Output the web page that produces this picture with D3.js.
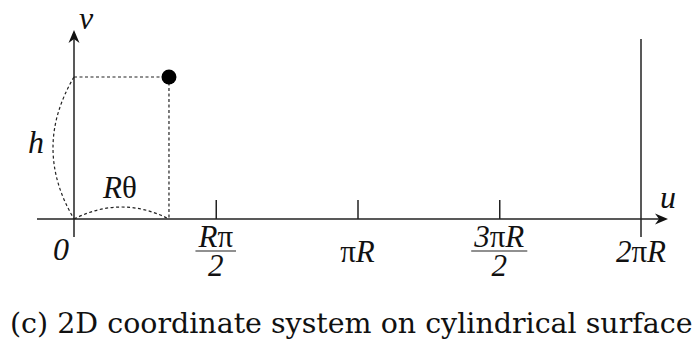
<!DOCTYPE html>
<html>
<head>
<meta charset="utf-8">
<script src="https://cdn.jsdelivr.net/npm/d3@7"></script>
<style>
  body { margin: 0; background: #fff; }
  text { fill: #111; }
</style>
</head>
<body>
<svg id="chart" width="699" height="341"></svg>
<script>
// u values are in multiples of piR, v in units of h
const tickValues = [0.5, 1, 1.5, 2];
const tickNums = ['Rπ', 'πR', '3πR', '2πR'];
const tickDens = ['2', '', '2', ''];
const pointU = [0.335];
const pointV = [1];
const caption = '(c) 2D coordinate system on cylindrical surface';

const svg = d3.select('#chart');
const ink = '#222';
const mathFont = "'Liberation Serif', 'Times New Roman', serif";

const x = d3.scaleLinear().domain([0, 2]).range([74, 641]);
const y = d3.scaleLinear().domain([0, 1]).range([219, 77]);

// axes lines
svg.append('line').attr('x1', 37).attr('x2', 660).attr('y1', y(0)).attr('y2', y(0))
  .attr('stroke', ink).attr('stroke-width', 1.5);
svg.append('line').attr('x1', x(0)).attr('x2', x(0)).attr('y1', 237).attr('y2', 38)
  .attr('stroke', ink).attr('stroke-width', 1.5);

// arrow heads
const arrow = 'M0,0 L-13,-5.5 L-9,0 L-13,5.5 Z';
svg.append('path').attr('d', arrow).attr('fill', '#111')
  .attr('transform', `translate(668,${y(0)})`);
svg.append('path').attr('d', arrow).attr('fill', '#111')
  .attr('transform', `translate(${x(0)},30) rotate(-90)`);

// ticks
const axis = d3.axisBottom(x).tickValues(tickValues.slice(0, 3))
  .tickSizeInner(-19).tickSizeOuter(0).tickFormat('');
const gx = svg.append('g').attr('transform', `translate(0,${y(0)})`).call(axis);
gx.select('.domain').remove();
gx.selectAll('.tick line').attr('stroke', ink).attr('stroke-width', 1.5);

// 2piR boundary line
svg.append('line').attr('x1', x(2)).attr('x2', x(2)).attr('y1', 39).attr('y2', 237)
  .attr('stroke', ink).attr('stroke-width', 1.5);

// math text: latin letters and digits italic, greek upright
function mathText(sel, s) {
  for (const ch of s) {
    const upright = (ch === 'π' || ch === 'θ');
    sel.append('tspan').style('font-style', upright ? 'normal' : 'italic').text(ch);
  }
}
function label(xp, yp, s, size) {
  const t = svg.append('text').attr('x', xp).attr('y', yp)
    .attr('text-anchor', 'middle')
    .style('font-family', mathFont).style('font-size', size + 'px');
  mathText(t, s);
  return t;
}

tickValues.forEach((v, i) => {
  const cx = x(v);
  if (tickDens[i]) {
    const num = label(cx, 247, tickNums[i], 31);
    const w = num.node().getComputedTextLength();
    svg.append('line').attr('x1', cx - w / 2 - 3).attr('x2', cx + w / 2 + 3)
      .attr('y1', 251).attr('y2', 251).attr('stroke', ink).attr('stroke-width', 1.2);
    label(cx, 276, tickDens[i], 31);
  } else {
    label(cx, 262, tickNums[i], 31);
  }
});

// origin and axis names
label(61, 260, '0', 32);
label(668, 208, 'u', 32);
label(86, 29, 'v', 32);

// point and guide lines
const px = x(pointU[0]), py = y(pointV[0]);
const dash = '3,2.5';
svg.append('line').attr('x1', x(0)).attr('x2', px).attr('y1', py).attr('y2', py)
  .attr('stroke', ink).attr('stroke-width', 1.2).attr('stroke-dasharray', dash);
svg.append('line').attr('x1', px).attr('x2', px).attr('y1', py).attr('y2', y(0))
  .attr('stroke', ink).attr('stroke-width', 1.2).attr('stroke-dasharray', dash);

// arcs for h and R theta
const arcH = d3.path();
arcH.moveTo(x(0), py);
arcH.quadraticCurveTo(x(0) - 42, (py + y(0)) / 2, x(0), y(0));
svg.append('path').attr('d', arcH.toString()).attr('fill', 'none')
  .attr('stroke', ink).attr('stroke-width', 1.2).attr('stroke-dasharray', dash);
const arcR = d3.path();
arcR.moveTo(x(0), y(0));
arcR.quadraticCurveTo((x(0) + px) / 2, y(0) - 24, px, y(0));
svg.append('path').attr('d', arcR.toString()).attr('fill', 'none')
  .attr('stroke', ink).attr('stroke-width', 1.2).attr('stroke-dasharray', dash);

svg.append('circle').attr('cx', px).attr('cy', py).attr('r', 7.5).attr('fill', '#000');

label(36, 153, 'h', 32);
label(120, 198, 'Rθ', 31);

// caption, fitted to the width of the original
const cap = svg.append('text').attr('x', 10).attr('y', 333)
  .style('font-family', "'DejaVu Serif', serif").style('font-size', '30px').text(caption);
const cw = cap.node().getComputedTextLength();
cap.style('font-size', (30 * 683 / cw) + 'px');
</script>
</body>
</html>
